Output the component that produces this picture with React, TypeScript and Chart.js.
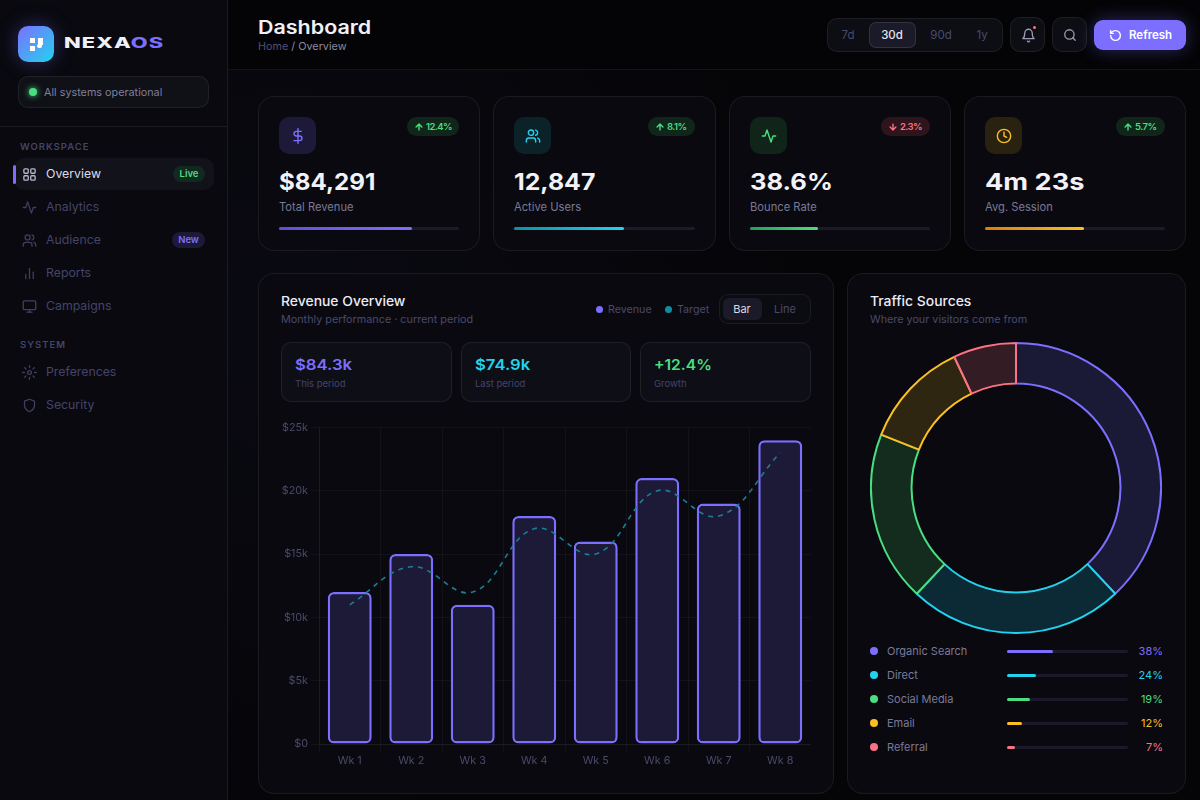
import React, { useEffect, useRef } from "react";
import Chart from "chart.js/auto";

const weeks = ["Wk 1", "Wk 2", "Wk 3", "Wk 4", "Wk 5", "Wk 6", "Wk 7", "Wk 8"];
const revenue = [12000, 15000, 11000, 18000, 16000, 21000, 19000, 24000];
const target = [11000, 14000, 12000, 17000, 15000, 20000, 18000, 23000];
const sources = ["Organic Search", "Direct", "Social Media", "Email", "Referral"];
const shares = [38, 24, 19, 12, 7];
const sourceColors = ["#7c6fff", "#22d3ee", "#4ade80", "#fbbf24", "#fb7185"];
const sourceFills = ["#1b1a36", "#0c2a36", "#142c1e", "#2e2611", "#331c23"];
const statValues = ["$84,291", "12,847", "38.6%", "4m 23s"];
const statLabels = ["Total Revenue", "Active Users", "Bounce Rate", "Avg. Session"];
const statDeltas = ["12.4%", "8.1%", "2.3%", "5.7%"];
const statProgress = [0.74, 0.61, 0.38, 0.55];

const FONT = "Inter, 'Noto Sans', sans-serif";

type TP = { x: number; y: number; s: number; c: string; w?: number; a?: "l" | "c" | "r"; k?: number; ls?: number; children: React.ReactNode };
function T({ x, y, s, c, w = 400, a = "l", k = 1, ls = 0, children }: TP) {
  const tx = a === "c" ? "translateX(-50%)" : a === "r" ? "translateX(-100%)" : "";
  return (
    <div style={{ position: "absolute", left: x, top: y - 10, height: 20, lineHeight: "20px", fontSize: s, color: c, fontWeight: w, letterSpacing: ls, whiteSpace: "pre", transform: `${tx} scaleX(${k})`, transformOrigin: "left center", fontFamily: FONT }}>
      {children}
    </div>
  );
}

function Box({ x, y, w, h, r = 0, bg, b, extra }: { x: number; y: number; w: number; h: number; r?: number; bg?: string; b?: string; extra?: React.CSSProperties }) {
  return <div style={{ position: "absolute", left: x, top: y, width: w, height: h, borderRadius: r, background: bg, border: b ? `1px solid ${b}` : undefined, boxSizing: "border-box", ...extra }} />;
}

function Icon({ cx, cy, size = 16, color, sw = 1.6, children }: { cx: number; cy: number; size?: number; color: string; sw?: number; children: React.ReactNode }) {
  return (
    <svg viewBox="0 0 24 24" width={size} height={size} fill="none" stroke={color} strokeWidth={sw * 24 / size} strokeLinecap="round" strokeLinejoin="round" style={{ position: "absolute", left: cx - size / 2, top: cy - size / 2 }}>
      {children}
    </svg>
  );
}

const gridI = <><rect x="3" y="3" width="7" height="7" rx="1.5" /><rect x="14" y="3" width="7" height="7" rx="1.5" /><rect x="14" y="14" width="7" height="7" rx="1.5" /><rect x="3" y="14" width="7" height="7" rx="1.5" /></>;
const activityI = <path d="M22 12h-4l-3 9L9 3l-3 9H2" />;
const usersI = <><path d="M16 21v-2a4 4 0 0 0-4-4H6a4 4 0 0 0-4 4v2" /><circle cx="9" cy="7" r="4" /><path d="M22 21v-2a4 4 0 0 0-3-3.87" /><path d="M16 3.13a4 4 0 0 1 0 7.75" /></>;
const barsI = <><line x1="18" y1="20" x2="18" y2="10" /><line x1="12" y1="20" x2="12" y2="4" /><line x1="6" y1="20" x2="6" y2="14" /></>;
const monitorI = <><rect x="2" y="3" width="20" height="14" rx="2" /><line x1="8" y1="21" x2="16" y2="21" /><line x1="12" y1="17" x2="12" y2="21" /></>;
const gearI = <><circle cx="12" cy="12" r="3" /><path d="M12 1v3M12 20v3M4.2 4.2l2.1 2.1M17.7 17.7l2.1 2.1M1 12h3M20 12h3M4.2 19.8l2.1-2.1M17.7 6.3l2.1-2.1" /></>;
const shieldI = <path d="M12 22s8-4 8-10V5l-8-3-8 3v7c0 6 8 10 8 10z" />;
const dollarI = <><line x1="12" y1="1" x2="12" y2="23" /><path d="M17 5H9.5a3.5 3.5 0 0 0 0 7h5a3.5 3.5 0 0 1 0 7H6" /></>;
const clockI = <><circle cx="12" cy="12" r="10" /><polyline points="12 6 12 12 16 14" /></>;
const bellI = <><path d="M18 8A6 6 0 0 0 6 8c0 7-3 9-3 9h18s-3-2-3-9" /><path d="M13.73 21a2 2 0 0 1-3.46 0" /></>;
const searchI = <><circle cx="11" cy="11" r="8" /><line x1="21" y1="21" x2="16.65" y2="16.65" /></>;
const refreshI = <><path d="M3 12a9 9 0 1 0 9-9 9.75 9.75 0 0 0-6.74 2.74L3 8" /><path d="M3 3v5h5" /></>;
const upI = <path d="M12 19V5M5 12l7-7 7 7" />;
const downI = <path d="M12 5v14M5 12l7 7 7-7" />;

const BORDER = "rgba(255,255,255,0.07)";
const MUTED = "#4a4a6e";
const DIM = "#7a7a98";

export default function App() {
  const barRef = useRef<HTMLCanvasElement>(null);
  const donutRef = useRef<HTMLCanvasElement>(null);

  useEffect(() => {
    const bar = new Chart(barRef.current!, {
      type: "bar",
      data: {
        labels: weeks,
        datasets: [
          { type: "bar", label: "Revenue", data: revenue, backgroundColor: "#1d1a38", borderColor: "#7c6fff", borderWidth: 2.5, borderRadius: 6, borderSkipped: false, categoryPercentage: 1, barPercentage: 0.715, order: 2 },
          { type: "line", label: "Target", data: target, borderColor: "#1b7f94", borderWidth: 1.6, borderDash: [5, 5], tension: 0.4, pointRadius: 0, fill: false, order: 1 },
        ] as any,
      },
      options: {
        responsive: false,
        animation: false,
        layout: { padding: 0 },
        plugins: { legend: { display: false }, tooltip: { enabled: false } },
        scales: {
          x: {
            grid: { color: "rgba(255,255,255,0.04)" },
            border: { color: "rgba(255,255,255,0.04)" },
            ticks: { color: "#4a4a6a", padding: 2, font: { family: "Inter", size: 10.8 } },
            afterFit: (s: any) => { s.height = 29; },
          },
          y: {
            min: 0,
            max: 25000,
            grid: { color: "rgba(255,255,255,0.04)" },
            border: { color: "rgba(255,255,255,0.04)" },
            ticks: { stepSize: 5000, color: "#4a4a6a", font: { family: "Inter", size: 10.8 }, callback: (v: any) => (Number(v) === 0 ? "$0" : "$" + Number(v) / 1000 + "k") },
            afterFit: (s: any) => { s.width = 38; },
          },
        },
      },
    } as any);
    const donut = new Chart(donutRef.current!, {
      type: "doughnut",
      data: {
        labels: sources,
        datasets: [{ data: shares, backgroundColor: sourceFills, borderColor: sourceColors, borderWidth: 2 }],
      },
      options: {
        responsive: false,
        animation: false,
        cutout: "72%",
        plugins: { legend: { display: false }, tooltip: { enabled: false } },
      },
    } as any);
    return () => { bar.destroy(); donut.destroy(); };
  }, []);

  const nav: [string, React.ReactNode, number][] = [
    ["Overview", gridI, 174], ["Analytics", activityI, 207], ["Audience", usersI, 240], ["Reports", barsI, 273], ["Campaigns", monitorI, 306], ["Preferences", gearI, 372], ["Security", shieldI, 405],
  ];
  const cardX = [258, 493, 729, 964];
  const cardW = [222, 223, 222, 222];
  const trackW = [180, 181, 180, 180];
  const valueK = [1.05, 1.08, 1.11, 1.18];
  const iconC = ["#7c6fff", "#22d3ee", "#4ade80", "#fbbf24"];
  const iconBg = ["#1c1a38", "#0c2229", "#10241a", "#2a2210"];
  const icons = [dollarI, usersI, activityI, clockI];
  const gradFrom = ["#5d50d8", "#0e8fa8", "#22a05a", "#d97e0a"];
  const badgeW = [52, 47, 49, 49];

  return (
    <div style={{ position: "fixed", left: 0, top: 0, width: 1200, height: 800, overflow: "hidden", background: "#050508", fontFamily: FONT }}>
      {/* main background */}
      <Box x={228} y={70} w={972} h={730} bg="radial-gradient(ellipse 520px 520px at 60px 250px, rgba(124,111,255,0.045), transparent 100%)" />
      {/* header */}
      <Box x={228} y={0} w={972} h={70} bg="#040406" extra={{ borderBottom: `1px solid ${BORDER}` }} />
      <T x={258} y={27} s={18.5} c="#f0f0f8" w={600} k={1.16}>Dashboard</T>
      <div style={{ position: "absolute", left: 258, top: 37, height: 20, lineHeight: "20px", fontSize: 10.8, color: "#8a8aa0", whiteSpace: "pre" }}><span style={{ color: "#4f4f78" }}>Home</span> / Overview</div>
      <Box x={827} y={18} w={176} h={34} r={10} bg="#0d0d14" b={BORDER} />
      <Box x={869} y={22} w={47} h={26} r={7} bg="#1a1a28" b="rgba(255,255,255,0.11)" />
      <T x={848} y={35} s={11.5} c={MUTED} a="c">7d</T>
      <T x={892} y={35} s={11.5} c="#e4e4f0" a="c" w={500}>30d</T>
      <T x={941} y={35} s={11.5} c={MUTED} a="c">90d</T>
      <T x={982} y={35} s={11.5} c={MUTED} a="c">1y</T>
      <Box x={1010} y={17} w={35} h={35} r={10} bg="#0d0d14" b={BORDER} />
      <Icon cx={1028} cy={35} size={15} color="#9a9ab4" sw={1.3}>{bellI}</Icon>
      <Box x={1032.5} y={25.5} w={3} h={3} r={2} bg="#fb7185" />
      <Box x={1052} y={17} w={35} h={35} r={10} bg="#0d0d14" b={BORDER} />
      <Icon cx={1070} cy={35} size={14} color="#9a9ab4" sw={1.3}>{searchI}</Icon>
      <Box x={1094} y={20} w={92} h={30} r={9} bg="#7c6fff" extra={{ boxShadow: "0 0 18px rgba(124,111,255,0.35)" }} />
      <Icon cx={1115} cy={35} size={13} color="#fff" sw={1.4}>{refreshI}</Icon>
      <T x={1129} y={35} s={11.5} c="#fff" w={600}>Refresh</T>

      {/* sidebar */}
      <Box x={0} y={0} w={228} h={800} bg="#09090f" extra={{ borderRight: `1px solid ${BORDER}` }} />
      <Box x={18} y={26} w={36} h={36} r={10} bg="linear-gradient(135deg,#7c6fff,#22d3ee)" extra={{ boxShadow: "0 0 20px rgba(124,111,255,0.35)" }} />
      <Box x={30} y={38} w={5} h={5} bg="#fff" />
      <Box x={30} y={46} w={5} h={5} bg="#fff" />
      <Box x={38} y={38} w={5} h={7} bg="#fff" />
      <Box x={37} y={44} w={5} h={4} r={2} bg="#fff" />
      <T x={64} y={43} s={14} c="#f0f0f8" w={800} k={1.56} ls={0.7}>NEXA<span style={{ color: "#7c6fff" }}>OS</span></T>
      <Box x={18} y={76} w={191} h={32} r={10} bg="#101017" b={BORDER} />
      <Box x={29} y={88} w={8} h={8} r={4} bg="#4ade80" extra={{ boxShadow: "0 0 6px #4ade80" }} />
      <T x={44} y={93} s={10.8} c="#7f7f9c">All systems operational</T>
      <Box x={0} y={126} w={227} h={1} bg={BORDER} />
      <T x={20} y={147} s={9.5} c="#44446a" w={600} ls={1}>WORKSPACE</T>
      <T x={20} y={345} s={9.5} c="#44446a" w={600} ls={1}>SYSTEM</T>
      <Box x={14} y={158} w={200} h={32} r={10} bg="#12121b" />
      <Box x={13} y={165} w={3} h={19} r={2} bg="#7c6fff" />
      {nav.map(([label, ic, y], i) => (
        <React.Fragment key={label}>
          <Icon cx={29} cy={y} size={15} color={i === 0 ? "#b8b8cc" : "#3f3f60"} sw={1.3}>{ic}</Icon>
          <T x={46} y={y} s={12.3} c={i === 0 ? "#dcdcec" : "#44446a"}>{label}</T>
        </React.Fragment>
      ))}
      <Box x={173} y={166} w={32} h={16} r={8} bg="#12291f" />
      <T x={189} y={174} s={9.5} c="#4ade80" w={600} a="c">Live</T>
      <Box x={172} y={232} w={33} h={16} r={8} bg="#1c1a38" />
      <T x={188.5} y={240} s={9.5} c="#7c6fff" w={600} a="c">New</T>

      {/* stat cards */}
      {statValues.map((v, i) => {
        const x = cardX[i];
        const down = i === 2;
        const right = x + 21 + trackW[i];
        const bc = down ? "#fb7185" : "#4ade80";
        return (
          <React.Fragment key={v}>
            <Box x={x} y={96} w={cardW[i]} h={155} r={16} bg="#09090f" b={BORDER} />
            <Box x={x + 21} y={117} w={37} h={37} r={10} bg={iconBg[i]} />
            <Icon cx={x + 39.5} cy={135.5} size={16} color={iconC[i]} sw={1.4}>{icons[i]}</Icon>
            <Box x={right - badgeW[i]} y={117} w={badgeW[i]} h={19} r={10} bg={down ? "#2e151c" : "#11261a"} />
            <Icon cx={right - badgeW[i] + 12} cy={126.5} size={10} color={bc} sw={1.4}>{down ? downI : upI}</Icon>
            <T x={right - badgeW[i] + 19} y={126.5} s={9.5} c={bc} w={600} ls={-0.55}>{statDeltas[i]}</T>
            <T x={x + 21} y={182} s={23} c="#f2f2f8" w={700} k={valueK[i]}>{v}</T>
            <T x={x + 21} y={207} s={11.2} c={DIM}>{statLabels[i]}</T>
            <Box x={x + 21} y={227} w={trackW[i]} h={3} r={2} bg="#1c1a2a" />
            <Box x={x + 21} y={227} w={trackW[i] * statProgress[i]} h={3} r={2} bg={`linear-gradient(90deg,${gradFrom[i]},${iconC[i]})`} />
          </React.Fragment>
        );
      })}

      {/* revenue card */}
      <Box x={258} y={273} w={576} h={521} r={16} bg="#09090f" b={BORDER} />
      <T x={281} y={301} s={13} c="#ececf6" w={500} k={1.07}>Revenue Overview</T>
      <T x={281} y={320} s={10.8} c={MUTED}>Monthly performance · current period</T>
      <Box x={596} y={306} w={7} h={7} r={4} bg="#7c6fff" />
      <T x={608} y={310} s={10.7} c={MUTED}>Revenue</T>
      <Box x={665} y={306} w={7} h={7} r={4} bg="#148ca0" />
      <T x={677} y={310} s={10.7} c={MUTED}>Target</T>
      <Box x={719} y={294} w={92} h={30} r={9} bg="#0b0b12" b={BORDER} />
      <Box x={723} y={298} w={39} h={22} r={6} bg="#1a1a28" />
      <T x={742} y={309} s={11} c="#d8d8e8" a="c">Bar</T>
      <T x={785} y={309} s={11} c={MUTED} a="c">Line</T>
      {[[281, 171, "$84.3k", "This period", "#7c6fff", 1.11], [461, 170, "$74.9k", "Last period", "#22d3ee", 1.11], [640, 171, "+12.4%", "Growth", "#4ade80", 1.04]].map(([x, w, v, l, c, k]: any) => (
        <React.Fragment key={l}>
          <Box x={x} y={342} w={w} h={60} r={10} bg="#0e0e16" b={BORDER} />
          <T x={x + 14} y={365} s={15} c={c} w={600} k={k}>{v}</T>
          <T x={x + 14} y={384} s={9.5} c="#44446a">{l}</T>
        </React.Fragment>
      ))}
      <canvas ref={barRef} width={530} height={355} style={{ position: "absolute", left: 281, top: 418, width: 530, height: 355 }} />

      {/* traffic card */}
      <Box x={847} y={273} w={339} h={521} r={16} bg="#09090f" b={BORDER} />
      <T x={870} y={301} s={13} c="#ececf6" w={500} k={1.07}>Traffic Sources</T>
      <T x={870} y={320} s={10.8} c={MUTED}>Where your visitors come from</T>
      <canvas ref={donutRef} width={292} height={292} style={{ position: "absolute", left: 870, top: 342, width: 292, height: 292 }} />
      {sources.map((s, i) => {
        const y = 651 + i * 24;
        return (
          <React.Fragment key={s}>
            <Box x={870} y={y - 4} w={8} h={8} r={4} bg={sourceColors[i]} />
            <T x={887} y={y} s={11} c={DIM}>{s}</T>
            <Box x={1007} y={y - 1.5} w={121} h={3} r={2} bg="#1c1a2a" />
            <Box x={1007} y={y - 1.5} w={121 * shares[i] / 100} h={3} r={2} bg={sourceColors[i]} />
            <T x={1163} y={y} s={11} c={sourceColors[i]} a="r">{shares[i] + "%"}</T>
          </React.Fragment>
        );
      })}
    </div>
  );
}
